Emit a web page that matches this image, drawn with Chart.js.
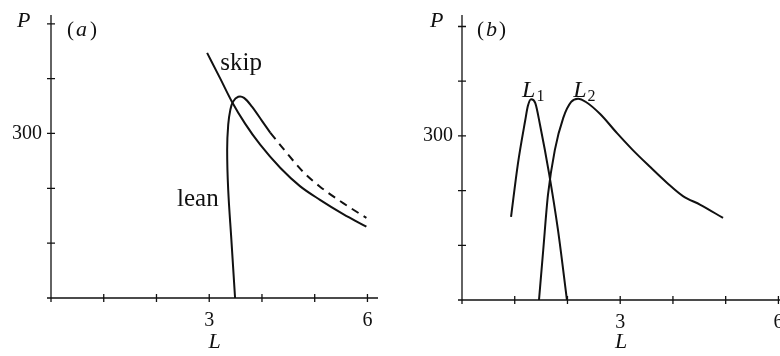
<!DOCTYPE html>
<html>
<head>
<meta charset="utf-8">
<script src="https://cdn.jsdelivr.net/npm/chart.js@4"></script>
<style>
  html, body { margin: 0; padding: 0; background: #fff; overflow: hidden; }
  #wrap { position: relative; width: 780px; height: 356px; }
  canvas { position: absolute; top: 0; }
  #chartA { left: 0; }
  #chartB { left: 390px; }
</style>
</head>
<body>
<div id="wrap">
  <canvas id="chartA" width="390" height="356"></canvas>
  <canvas id="chartB" width="390" height="356"></canvas>
</div>
<script>
// ── panel (a) data ─────────────────────────────────────────────────────────
const skipL = [2.96, 3.21, 3.43, 3.68, 3.97, 4.35, 4.72, 5.10, 5.54, 5.98];
const skipP = [447, 400, 358, 318, 279, 237, 204, 179, 153, 130];

const leanL = [3.49, 3.42, 3.36, 3.34, 3.36, 3.40, 3.45, 3.55, 3.66, 3.81, 4.00, 4.16];
const leanP = [0, 106, 197, 270, 316, 343, 358, 367, 365, 349, 323, 301];

const leanDashL = [4.16, 4.44, 4.78, 5.10, 5.54, 5.98];
const leanDashP = [301, 268, 230, 203, 173, 146];

// ── panel (b) data ─────────────────────────────────────────────────────────
const l1L = [0.93, 1.06, 1.20, 1.25, 1.31, 1.39, 1.48, 1.65, 1.82, 1.99];
const l1P = [152, 249, 329, 355, 367, 360, 320, 232, 128, 0];

const l2L = [1.46, 1.54, 1.63, 1.76, 1.92, 2.07, 2.20, 2.35, 2.62, 2.94, 3.24, 3.57, 3.89, 4.19, 4.52, 4.95];
const l2P = [0, 91, 192, 274, 333, 362, 368, 362, 340, 305, 274, 243, 214, 190, 174, 150];

// ── axis ticks ─────────────────────────────────────────────────────────────
const xTicks = [0, 1, 2, 3, 4, 5, 6];
const yTicks = [0, 100, 200, 300, 400, 500];
const xLabeled = [3, 6];
const yLabeled = [300];

const INK = "#111";
const SERIF = "'Liberation Serif', 'DejaVu Serif', serif";

function pts(xs, ys) {
  return xs.map((x, i) => ({ x: x, y: ys[i] }));
}

function line(xs, ys, dash, monotone) {
  return {
    data: pts(xs, ys),
    borderColor: INK,
    borderWidth: 2,
    borderDash: dash || [],
    pointRadius: 0,
    tension: 0.35,
    cubicInterpolationMode: monotone ? "monotone" : "default",
    fill: false,
  };
}

// axes drawn as crossing tick marks, positions taken from the scales
const axesPlugin = {
  id: "crossAxes",
  afterDraw(chart) {
    const { ctx, chartArea: a, scales: { x, y } } = chart;
    const x0 = x.getPixelForValue(0);
    const y0 = y.getPixelForValue(0);
    ctx.save();
    ctx.strokeStyle = INK;
    ctx.lineWidth = 1.3;
    ctx.beginPath();
    ctx.moveTo(x0, a.top);
    ctx.lineTo(x0, y0);
    ctx.moveTo(x0, y0);
    ctx.lineTo(a.right, y0);
    xTicks.forEach((v) => {
      const px = x.getPixelForValue(v);
      ctx.moveTo(px, y0 - 4);
      ctx.lineTo(px, y0 + 4);
    });
    yTicks.forEach((v) => {
      const py = y.getPixelForValue(v);
      ctx.moveTo(x0 - 4, py);
      ctx.lineTo(x0 + 4, py);
    });
    ctx.stroke();
    ctx.restore();
  },
};

// text labels: axis name P, panel tag, curve names
function textPlugin(items) {
  return {
    id: "labels",
    afterDraw(chart) {
      const { ctx, scales: { x, y } } = chart;
      ctx.save();
      ctx.fillStyle = INK;
      ctx.textBaseline = "alphabetic";
      items.forEach((t) => {
        const px = t.data ? x.getPixelForValue(t.x) : t.x;
        const py = t.data ? y.getPixelForValue(t.y) : t.y;
        ctx.font = (t.italic ? "italic " : "") + t.size + "px " + SERIF;
        ctx.fillText(t.text, px, py);
        if (t.sub) {
          const w = ctx.measureText(t.text).width;
          ctx.font = "16px " + SERIF;
          ctx.fillText(t.sub, px + w + 1, py + 4);
        }
      });
      ctx.restore();
    },
  };
}

function noPad(s) {
  s.paddingLeft = 0;
  s.paddingRight = 0;
  s.paddingTop = 0;
  s.paddingBottom = 0;
}

function makeChart(id, datasets, opts) {
  return new Chart(document.getElementById(id), {
    type: "line",
    data: { datasets: datasets },
    options: {
      responsive: false,
      animation: false,
      layout: { padding: { top: opts.top, right: opts.right, left: 0, bottom: 0 } },
      plugins: { legend: { display: false }, tooltip: { enabled: false } },
      scales: {
        x: {
          type: "linear",
          min: 0,
          max: opts.xMax,
          border: { display: false },
          grid: { display: false, drawTicks: false },
          afterBuildTicks: (s) => { s.ticks = xTicks.map((v) => ({ value: v })); },
          afterFit: (s) => { s.height = opts.xHeight; noPad(s); },
          ticks: {
            autoSkip: false,
            maxRotation: 0,
            padding: 11,
            color: INK,
            font: { family: SERIF, size: 20 },
            callback: (v) => (xLabeled.includes(v) ? String(v) : ""),
          },
          title: {
            display: true,
            text: "L",
            color: INK,
            font: { family: SERIF, size: 22, style: "italic" },
            padding: { top: 0, bottom: 1 },
          },
        },
        y: {
          type: "linear",
          min: 0,
          max: opts.yMax,
          border: { display: false },
          grid: { display: false, drawTicks: false },
          afterBuildTicks: (s) => { s.ticks = yTicks.map((v) => ({ value: v })); },
          afterFit: (s) => { s.width = opts.yWidth; noPad(s); },
          ticks: {
            padding: 9,
            color: INK,
            font: { family: SERIF, size: 20 },
            callback: (v) => (yLabeled.includes(v) ? String(v) : ""),
          },
        },
      },
    },
    plugins: [axesPlugin, textPlugin(opts.texts)],
  });
}

makeChart("chartA", [
  line(skipL, skipP, null, true),
  line(leanL, leanP),
  line(leanDashL, leanDashP, [8, 6], true),
], {
  top: 15, right: 12, xMax: 6.2, yMax: 516, xHeight: 58, yWidth: 51,
  texts: [
    { text: "P", x: 17, y: 27, size: 22, italic: true },
    { text: "(", x: 67, y: 36, size: 21 },
    { text: "a", x: 76, y: 36, size: 22, italic: true },
    { text: ")", x: 90, y: 36, size: 21 },
    { text: "skip", x: 3.21, y: 416, size: 25, data: true },
    { text: "lean", x: 2.39, y: 168, size: 25, data: true },
  ],
});

makeChart("chartB", [
  line(l1L, l1P, null, true),
  line(l2L, l2P, null, true),
], {
  top: 15, right: 0, xMax: 6.03, yMax: 521, xHeight: 56, yWidth: 72,
  texts: [
    { text: "P", x: 40, y: 27, size: 22, italic: true },
    { text: "(", x: 87, y: 36, size: 21 },
    { text: "b", x: 96, y: 36, size: 22, italic: true },
    { text: ")", x: 109, y: 36, size: 21 },
    { text: "L", x: 1.14, y: 371, size: 24, italic: true, sub: "1", data: true },
    { text: "L", x: 2.11, y: 371, size: 24, italic: true, sub: "2", data: true },
  ],
});
</script>
</body>
</html>
